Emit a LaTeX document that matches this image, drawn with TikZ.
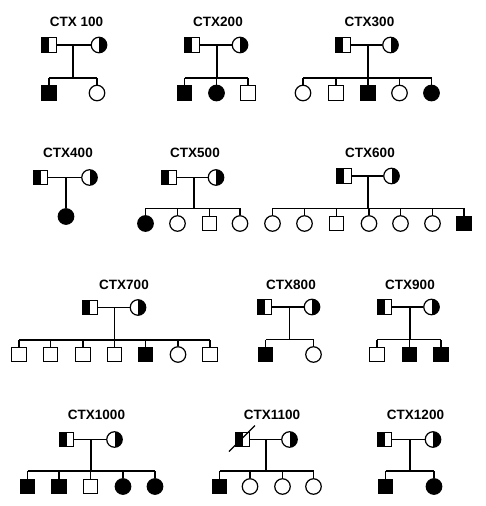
\documentclass[tikz,border=0pt]{standalone}
\usepackage{fontspec}
\setmainfont{Liberation Sans}
\begin{document}
\begin{tikzpicture}[x=1pt,y=-1pt,line width=1.3pt,
  sq/.style={draw,rectangle,minimum size=14.5pt,inner sep=0pt,line width=1.2pt,fill=white},
  ci/.style={draw,circle,minimum size=15.5pt,inner sep=0pt,line width=1.2pt,fill=white},
  fsq/.style={sq,fill=black},
  fci/.style={ci,fill=black},
  csq/.style={sq,path picture={\fill[black] (path picture bounding box.south west) rectangle (path picture bounding box.north);}},
  cci/.style={ci,path picture={\fill[black] (path picture bounding box.north) rectangle (path picture bounding box.south east);}},
  ttl/.style={font=\fontsize{13.5}{16}\selectfont\bfseries,inner sep=0pt},
  ln/.style={line width=1.3pt}]
\useasboundingbox (0,0) rectangle (485,506);

% ---------- CTX 100
\node[ttl] (t1) at (76.5,21.5) {CTX 100};
\node[csq] (f1) at (49,45) {};
\node[cci] (m1) at (99,45) {};
\coordinate (d1) at (73,45); \coordinate (s1) at (73,78);
\node[fsq] (c1a) at (49,93) {};
\node[ci]  (c1b) at (97,93) {};
\draw[ln] (f1) -- (m1); \draw[ln] (d1) -- (s1);
\draw[ln] (c1a.north |- s1) -- (c1b.north |- s1);
\foreach \c in {c1a,c1b} \draw[ln] (\c.north) -- (\c.north |- s1);

% ---------- CTX200
\node[ttl] (t2) at (218,21.5) {CTX200};
\node[csq] (f2) at (192,45) {};
\node[cci] (m2) at (240,45) {};
\coordinate (d2) at (217,45); \coordinate (s2) at (217,78);
\node[fsq] (c2a) at (184.5,93) {};
\node[fci] (c2b) at (216.5,93) {};
\node[sq]  (c2c) at (248,93) {};
\draw[ln] (f2) -- (m2); \draw[ln] (d2) -- (s2);
\draw[ln] (c2a.north |- s2) -- (c2c.north |- s2);
\foreach \c in {c2a,c2b,c2c} \draw[ln] (\c.north) -- (\c.north |- s2);

% ---------- CTX300
\node[ttl] (t3) at (369.5,21.5) {CTX300};
\node[csq] (f3) at (343,45) {};
\node[cci] (m3) at (390.5,45) {};
\coordinate (d3) at (368,45); \coordinate (s3) at (368,78);
\node[ci]  (c3a) at (303,93) {};
\node[sq]  (c3b) at (336,93) {};
\node[fsq] (c3c) at (368,93) {};
\node[ci]  (c3d) at (399.5,93) {};
\node[fci] (c3e) at (431.5,93) {};
\draw[ln] (f3) -- (m3); \draw[ln] (d3) -- (s3);
\draw[ln] (c3a.north |- s3) -- (c3e.north |- s3);
\foreach \c in {c3a,c3b,c3c,c3d,c3e} \draw[ln] (\c.north) -- (\c.north |- s3);

% ---------- CTX400
\node[ttl] (t4) at (68,153) {CTX400};
\node[csq] (f4) at (40.5,177.5) {};
\node[cci] (m4) at (89.5,177.5) {};
\coordinate (d4) at (66,177.5);
\node[fci] (c4a) at (66,216.5) {};
\draw[ln] (f4) -- (m4); \draw[ln] (d4) -- (c4a.north);

% ---------- CTX500
\node[ttl] (t5) at (195,153) {CTX500};
\node[csq] (f5) at (169,177.5) {};
\node[cci] (m5) at (216,177.5) {};
\coordinate (d5) at (194,177.5); \coordinate (s5) at (194,208.3);
\node[fci] (c5a) at (145.5,223.5) {};
\node[ci]  (c5b) at (177.5,223.5) {};
\node[sq]  (c5c) at (209.5,223.5) {};
\node[ci]  (c5d) at (240,223.5) {};
\draw[ln] (f5) -- (m5); \draw[ln] (d5) -- (s5);
\draw[ln] (c5a.north |- s5) -- (c5d.north |- s5);
\foreach \c in {c5a,c5b,c5c,c5d} \draw[ln] (\c.north) -- (\c.north |- s5);

% ---------- CTX600
\node[ttl] (t6) at (370,152.5) {CTX600};
\node[csq] (f6) at (344,176) {};
\node[cci] (m6) at (391.5,176) {};
\coordinate (d6) at (368,176); \coordinate (s6) at (368,208.3);
\node[ci]  (c6a) at (272.5,223.5) {};
\node[ci]  (c6b) at (304.5,223.5) {};
\node[sq]  (c6c) at (336.5,223.5) {};
\node[ci]  (c6d) at (369,223.5) {};
\node[ci]  (c6e) at (400.5,223.5) {};
\node[ci]  (c6f) at (432.5,223.5) {};
\node[fsq] (c6g) at (464,223.5) {};
\draw[ln] (f6) -- (m6); \draw[ln] (d6) -- (s6);
\draw[ln] (c6a.north |- s6) -- (c6g.north |- s6);
\foreach \c in {c6a,c6b,c6c,c6d,c6e,c6f,c6g} \draw[ln] (\c.north) -- (\c.north |- s6);

% ---------- CTX700
\node[ttl] (t7) at (124,284.5) {CTX700};
\node[csq] (f7) at (90,307.5) {};
\node[cci] (m7) at (138,307.5) {};
\coordinate (d7) at (114.3,307.5); \coordinate (s7) at (114.3,340);
\node[sq]  (c7a) at (19,354.5) {};
\node[sq]  (c7b) at (50.5,354.5) {};
\node[sq]  (c7c) at (83,354.5) {};
\node[sq]  (c7d) at (114.5,354.5) {};
\node[fsq] (c7e) at (145.5,354.5) {};
\node[ci]  (c7f) at (178,354.5) {};
\node[sq]  (c7g) at (210,354.5) {};
\draw[ln] (f7) -- (m7); \draw[ln] (d7) -- (s7);
\draw[ln] (c7a.north |- s7) -- (c7g.north |- s7);
\foreach \c in {c7a,c7b,c7c,c7d,c7e,c7f,c7g} \draw[ln] (\c.north) -- (\c.north |- s7);

% ---------- CTX800
\node[ttl] (t8) at (291,284.5) {CTX800};
\node[csq] (f8) at (264.5,307) {};
\node[cci] (m8) at (312,307) {};
\coordinate (d8) at (289.3,307); \coordinate (s8) at (289.3,339.5);
\node[fsq] (c8a) at (265.5,354.5) {};
\node[ci]  (c8b) at (313.5,354.5) {};
\draw[ln] (f8) -- (m8); \draw[ln] (d8) -- (s8);
\draw[ln] (c8a.north |- s8) -- (c8b.north |- s8);
\foreach \c in {c8a,c8b} \draw[ln] (\c.north) -- (\c.north |- s8);

% ---------- CTX900
\node[ttl] (t9) at (410,284.5) {CTX900};
\node[csq] (f9) at (384.5,307) {};
\node[cci] (m9) at (431.5,307) {};
\coordinate (d9) at (410,307); \coordinate (s9) at (410,339.5);
\node[sq]  (c9a) at (377,354.5) {};
\node[fsq] (c9b) at (409.5,354.5) {};
\node[fsq] (c9c) at (441,354.5) {};
\draw[ln] (f9) -- (m9); \draw[ln] (d9) -- (s9);
\draw[ln] (c9a.north |- s9) -- (c9c.north |- s9);
\foreach \c in {c9a,c9b,c9c} \draw[ln] (\c.north) -- (\c.north |- s9);

% ---------- CTX1000
\node[ttl] (t10) at (96.5,414.5) {CTX1000};
\node[csq] (f10) at (66.5,439.5) {};
\node[cci] (m10) at (114.5,439.5) {};
\coordinate (d10) at (91,439.5); \coordinate (s10) at (91,471);
\node[fsq] (c10a) at (27.5,486.5) {};
\node[fsq] (c10b) at (59,486.5) {};
\node[sq]  (c10c) at (90.5,486.5) {};
\node[fci] (c10d) at (123,486.5) {};
\node[fci] (c10e) at (155,486.5) {};
\draw[ln] (f10) -- (m10); \draw[ln] (d10) -- (s10);
\draw[ln] (c10a.north |- s10) -- (c10e.north |- s10);
\foreach \c in {c10a,c10b,c10c,c10d,c10e} \draw[ln] (\c.north) -- (\c.north |- s10);

% ---------- CTX1100
\node[ttl] (t11) at (272,414.5) {CTX1100};
\node[csq] (f11) at (242.5,439.5) {};
\node[cci] (m11) at (289.5,439.5) {};
\coordinate (d11) at (266,439.5); \coordinate (s11) at (266,471);
\coordinate (k1) at ([shift={(-13.5,12)}]f11.center);
\coordinate (k2) at ([shift={(12.5,-14)}]f11.center);
\node[fsq] (c11a) at (219.5,486.5) {};
\node[ci]  (c11b) at (250,486.5) {};
\node[ci]  (c11c) at (282.5,486.5) {};
\node[ci]  (c11d) at (313.5,486.5) {};
\draw[ln] (f11) -- (m11); \draw[ln] (d11) -- (s11);
\draw[ln] (k1) -- (k2);
\draw[ln] (c11a.north |- s11) -- (c11d.north |- s11);
\foreach \c in {c11a,c11b,c11c,c11d} \draw[ln] (\c.north) -- (\c.north |- s11);

% ---------- CTX1200
\node[ttl] (t12) at (415.5,414.5) {CTX1200};
\node[csq] (f12) at (384.5,439.5) {};
\node[cci] (m12) at (433,439.5) {};
\coordinate (d12) at (410,439.5); \coordinate (s12) at (410,471);
\node[fsq] (c12a) at (385.5,486.5) {};
\node[fci] (c12b) at (434,486.5) {};
\draw[ln] (f12) -- (m12); \draw[ln] (d12) -- (s12);
\draw[ln] (c12a.north |- s12) -- (c12b.north |- s12);
\foreach \c in {c12a,c12b} \draw[ln] (\c.north) -- (\c.north |- s12);
\end{tikzpicture}
\end{document}
